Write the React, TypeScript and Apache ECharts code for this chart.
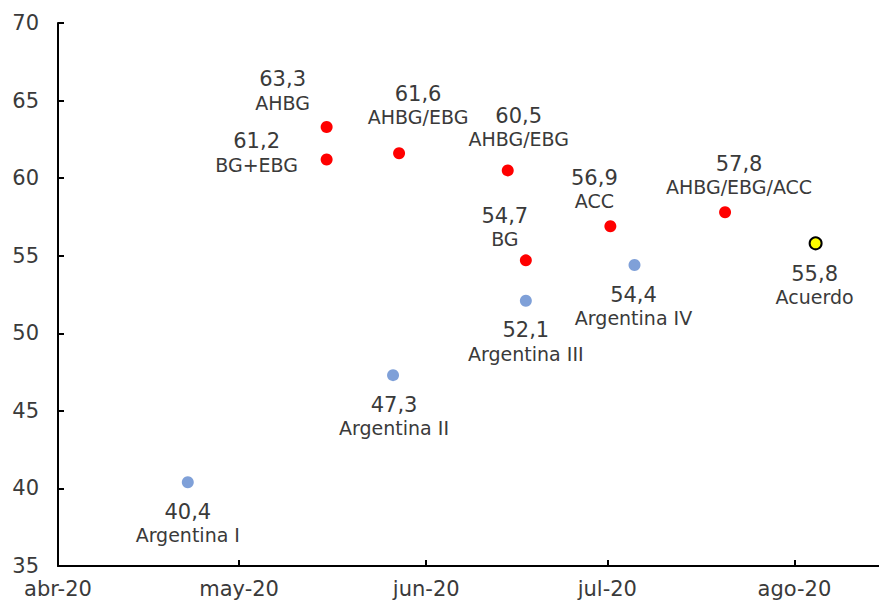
import React, { useEffect, useRef } from "react";
import * as echarts from "echarts";

// ---- data ----
const tickDates = ["2020-04-01", "2020-05-01", "2020-06-01", "2020-07-01", "2020-08-01"];
const tickLabels = ["abr-20", "may-20", "jun-20", "jul-20", "ago-20"];

const redDates = [
  "2020-05-15 12:00",
  "2020-05-15 12:00",
  "2020-05-27 12:00",
  "2020-06-14 12:00",
  "2020-06-17 12:00",
  "2020-07-01 12:00",
  "2020-07-20 12:00",
];
const redValues = [63.3, 61.2, 61.6, 60.5, 54.7, 56.9, 57.8];
const redNames = ["AHBG", "BG+EBG", "AHBG/EBG", "AHBG/EBG", "BG", "ACC", "AHBG/EBG/ACC"];

const blueDates = ["2020-04-22 12:00", "2020-05-26 12:00", "2020-06-17 12:00", "2020-07-05 12:00"];
const blueValues = [40.4, 47.3, 52.1, 54.4];
const blueNames = ["Argentina I", "Argentina II", "Argentina III", "Argentina IV"];

const yellowDates = ["2020-08-04 12:00"];
const yellowValues = [55.8];
const yellowNames = ["Acuerdo"];

// ---- layout (label offsets from the point, px) ----
const redLabelOffsets = [
  [-44, -36],
  [-70, -7],
  [19, -48],
  [11, -43],
  [-21, -33],
  [-16, -37],
  [14, -37],
];
const blueLabelOffsets = [
  [0, 41],
  [1, 41],
  [0, 41],
  [-1, 41],
];
const yellowLabelOffsets = [[-1, 42]];

const FONT = "DejaVu Sans";
const TEXT = "#3a3a3a";
const DAY = 86400000;

function toTime(s: string): number {
  const [d, t] = s.split(" ");
  const [y, m, day] = d.split("-").map(Number);
  let h = 0;
  let mi = 0;
  if (t) {
    [h, mi] = t.split(":").map(Number);
  }
  return Date.UTC(y, m - 1, day, h, mi);
}

const ORIGIN = toTime(tickDates[0]);
// days elapsed since the first tick date
const toDay = (s: string) => Math.round(((toTime(s) - ORIGIN) / DAY) * 1000) / 1000;

const fmt = (v: number) => v.toFixed(1).replace(".", ",");

function buildData(dates: string[], values: number[], names: string[], offsets: number[][]) {
  return dates.map((d, i) => ({
    value: [toDay(d), values[i]],
    name: names[i],
    label: { offset: offsets[i] },
  }));
}

const labelCfg = {
  show: true,
  position: "inside",
  align: "center",
  verticalAlign: "middle",
  formatter: (p: any) => `{v|${fmt(p.value[1])}}\n{n|${p.name}}`,
  rich: {
    v: { fontFamily: FONT, fontSize: 21, lineHeight: 24, color: TEXT, align: "center" },
    n: { fontFamily: FONT, fontSize: 19, lineHeight: 23, color: TEXT, align: "center" },
  },
};

export default function App() {
  const ref = useRef<HTMLDivElement>(null);
  useEffect(() => {
    document.body.style.margin = "0";
    if (!ref.current) return;
    const chart = echarts.init(ref.current, undefined, { renderer: "svg" });
    const tickDays = tickDates.map(toDay);

    chart.setOption({
      animation: false,
      backgroundColor: "#ffffff",
      grid: { left: 58, right: 0, top: 23, bottom: 35, containLabel: false },
      xAxis: {
        type: "value",
        min: 0,
        max: 136,
        splitLine: { show: false },
        axisLine: { show: true, lineStyle: { color: "#000", width: 2 } },
        axisTick: {
          show: true,
          inside: true,
          length: 6,
          lineStyle: { color: "#000", width: 2 },
          customValues: tickDays,
        },
        axisLabel: {
          customValues: tickDays,
          margin: 12,
          fontFamily: FONT,
          fontSize: 21,
          color: TEXT,
          formatter: (val: number) => {
            const i = tickDays.indexOf(val);
            return i >= 0 ? tickLabels[i] : "";
          },
        },
      },
      yAxis: {
        type: "value",
        min: 35,
        max: 70,
        interval: 5,
        splitLine: { show: false },
        axisLine: { show: true, lineStyle: { color: "#000", width: 2 } },
        axisTick: { show: true, inside: true, length: 6, lineStyle: { color: "#000", width: 2 } },
        axisLabel: { margin: 19, fontFamily: FONT, fontSize: 21, color: TEXT },
      },
      series: [
        {
          type: "scatter",
          symbolSize: 12,
          itemStyle: { color: "#ff0000", opacity: 1 },
          label: labelCfg,
          data: buildData(redDates, redValues, redNames, redLabelOffsets),
        },
        {
          type: "scatter",
          symbolSize: 12,
          itemStyle: { color: "#7fa0d8", opacity: 1 },
          label: labelCfg,
          data: buildData(blueDates, blueValues, blueNames, blueLabelOffsets),
        },
        {
          type: "scatter",
          symbolSize: 12,
          itemStyle: { color: "#ffff00", borderColor: "#000", borderWidth: 2, opacity: 1 },
          label: labelCfg,
          data: buildData(yellowDates, yellowValues, yellowNames, yellowLabelOffsets),
        },
      ],
    });
    return () => chart.dispose();
  }, []);
  return (
    <div
      ref={ref}
      style={{ position: "absolute", left: 0, top: 0, width: 879, height: 601 }}
    />
  );
}
